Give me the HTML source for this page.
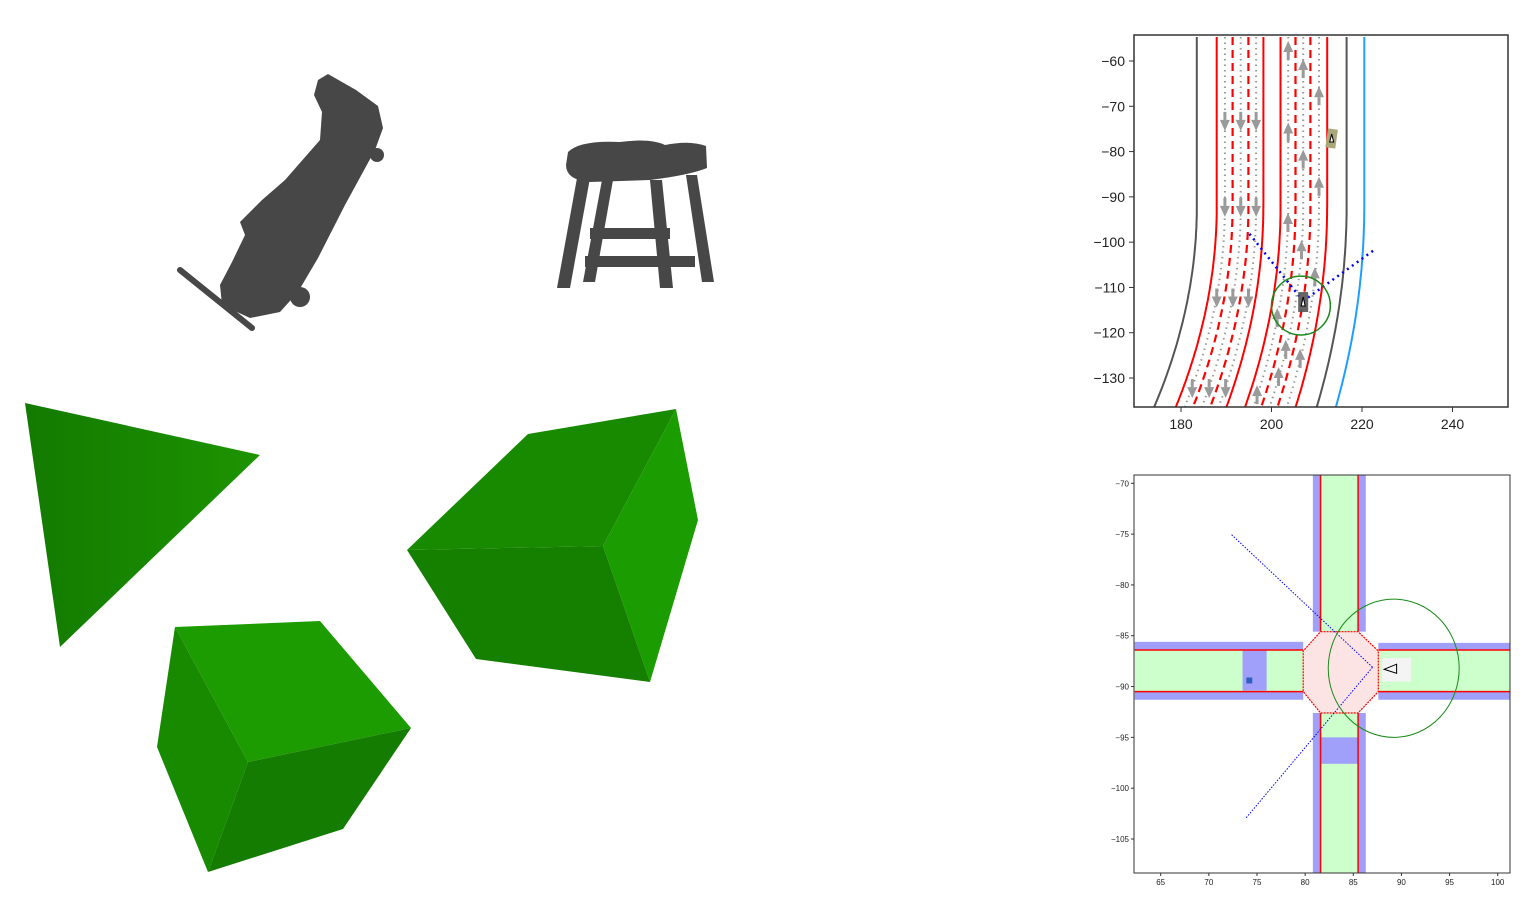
<!DOCTYPE html>
<html><head><meta charset="utf-8"><style>
html,body{margin:0;padding:0;background:#fff;width:1531px;height:914px;overflow:hidden}
svg{display:block;position:absolute;left:0;top:0;font-family:"Liberation Sans",sans-serif}
</style></head><body>
<svg id="s" width="1531" height="914" viewBox="0 0 1531 914">
<defs>
<linearGradient id="tg" x1="0" y1="0" x2="1" y2="0"><stop offset="0" stop-color="#137a00"/><stop offset="1" stop-color="#1d9400"/></linearGradient>
<clipPath id="c1"><rect x="1134" y="35" width="374" height="372"/></clipPath>
<clipPath id="c2"><rect x="1134" y="475" width="376" height="398"/></clipPath>
</defs>
<g>
<polygon fill="#474747" points="318,80 328,74 356,90 378,106 383,128 375,150 345,205 318,258 298,292 280,312 250,318 222,305 220,285 232,262 245,235 240,222 262,200 285,180 320,140 322,112 314,95"/>
<line x1="180" y1="270" x2="252" y2="328" stroke="#474747" stroke-width="6" stroke-linecap="round"/>
<circle cx="300" cy="297" r="10" fill="#474747"/>
<circle cx="377" cy="155" r="7" fill="#474747"/>
<g fill="#474747">
<path d="M568,152 Q580,140 620,142 Q650,138 665,145 Q690,140 706,146 L707,168 Q690,175 650,180 L590,182 Q566,180 566,165 Z"/>
<polygon points="577,178 590,178 570,288 557,288"/>
<polygon points="602,180 613,180 595,282 583,282"/>
<polygon points="650,180 662,180 673,288 660,288"/>
<polygon points="686,175 697,175 714,282 702,282"/>
<rect x="590" y="228" width="80" height="11"/>
<rect x="585" y="256" width="110" height="11"/>
</g>
<polygon fill="url(#tg)" points="25,403 260,455 60,647"/>
<polygon fill="#188a00" points="407,550 528,434 676,409 603,546"/>
<polygon fill="#1b9c00" points="603,546 676,409 698,520 650,682"/>
<polygon fill="#158000" points="407,550 603,546 650,682 476,659"/>
<polygon fill="#1c9c00" points="175,627 320,621 411,728 248,762"/>
<polygon fill="#178a00" points="175,627 248,762 208,872 157,747"/>
<polygon fill="#147c00" points="248,762 411,728 343,829 208,872"/>
</g>
<g id="top"></g>
<g id="bot"></g>
</svg>
<script>
const NS='http://www.w3.org/2000/svg';
function mk(p,t,a){const e=document.createElementNS(NS,t);for(const k in a)e.setAttribute(k,a[k]);p.appendChild(e);return e;}
// ---------- top chart data ----------
const topXTicks=[180,200,220,240];
const topYTicks=[-60,-70,-80,-90,-100,-110,-120,-130];
const solidRed=[187.9,198.2,202.0,212.3];
const dashedRed=[191.4,194.9,205.3,208.6];
const dottedGray=[189.7,193.2,196.6,203.7,207.0,210.5];
const grayBorders=[183.5,216.6];
const blueBorder=[220.5];
const downArrowX=[189.7,193.2,196.6];
const downArrowY=[-73,-92,-112,-132];
const upArrowX=[203.7,203.7,203.7,203.7,203.7,207.0,207.0,207.0,207.0,207.0,210.5,210.5,210.5,210.5];
const upArrowY=[-58,-76,-96,-117,-134,-62,-82,-102,-124,-130,-68,-88,-108,-126];
const egoPos=[207,-113];
const otherPos=[213.3,-77];
const sensorEnds=[[195,-98],[223,-101.5]];
const circleR=[6.5];
const tx=v=>1181+(v-180)*4.525, ty=v=>61+(-60-v)*4.529;
function laneX(x0,y){const s=y< -92?-0.0048*Math.pow(-92-y,2):0;return x0+s*(1-(x0-183)*0.009);}
const T=document.getElementById('top');
const tp=mk(T,'g',{'clip-path':'url(#c1)'});
function lane(x0,style,name){let d='';for(let y=-54.7;y>=-136.7;y-=1){d+=(d?'L':'M')+tx(laneX(x0,y)).toFixed(1)+','+ty(y).toFixed(1);}
 const e=mk(tp,'path',Object.assign({d:d,fill:'none'},style));}
grayBorders.forEach(x=>lane(x,{stroke:'#555','stroke-width':2},'road-border'));
blueBorder.forEach(x=>lane(x,{stroke:'#1e9fff','stroke-width':2},'blue-boundary'));
dottedGray.forEach(x=>lane(x,{stroke:'#999','stroke-width':2,'stroke-dasharray':'1.5,4'},'lane-centerline'));
solidRed.forEach(x=>lane(x,{stroke:'#f00','stroke-width':2},'lane-solid-line'));
dashedRed.forEach(x=>lane(x,{stroke:'#f00','stroke-width':2.2,'stroke-dasharray':'8,5'},'lane-dashed-line'));
function arrow(xv,yv,up){const X=tx(laneX(xv,yv)),Y=ty(yv);const dir=up?-1:1;
 const g=mk(tp,'g',{fill:'#9a9a9a',stroke:'none'});
 
 
 mk(g,'rect',{x:X-1.5,y:up?Y:Y-8,width:3,height:8});
 mk(g,'polygon',{points:`${X-5},${Y} ${X+5},${Y} ${X},${Y+dir*11}`});}
downArrowX.forEach(x=>downArrowY.forEach(y=>arrow(x,y,false)));
upArrowX.forEach((x,i)=>arrow(x,upArrowY[i],true));
sensorEnds.forEach(p=>{const l=mk(tp,'line',{x1:tx(egoPos[0]),y1:ty(egoPos[1]),x2:tx(p[0]),y2:ty(p[1]),stroke:'#00f','stroke-width':2.5,'stroke-dasharray':'2,4'});
 });
const gc=mk(tp,'circle',{cx:tx(egoPos[0]-0.5),cy:ty(egoPos[1]-1),r:circleR[0]*4.525,fill:'none',stroke:'#1a8a1a','stroke-width':1.5});

const ego=mk(tp,'rect',{x:tx(egoPos[0])-5,y:ty(egoPos[1])-9,width:10,height:20,fill:'#555',opacity:0.9});

mk(tp,'polygon',{points:`${tx(egoPos[0])-2},${ty(egoPos[1])+5} ${tx(egoPos[0])+2},${ty(egoPos[1])+5} ${tx(egoPos[0])},${ty(egoPos[1])-4}`,fill:'#fff',stroke:'#000','stroke-width':1});
const oth=mk(tp,'rect',{x:tx(otherPos[0])-5,y:ty(otherPos[1])-9,width:10,height:19,fill:'#a8a87a',transform:`rotate(8 ${tx(otherPos[0])} ${ty(otherPos[1])})`});

mk(tp,'polygon',{points:`${tx(otherPos[0])-2},${ty(otherPos[1])+4} ${tx(otherPos[0])+2},${ty(otherPos[1])+4} ${tx(otherPos[0])},${ty(otherPos[1])-4}`,fill:'#fff',stroke:'#000','stroke-width':1});
const tf=mk(T,'rect',{x:1134,y:35,width:374,height:372,fill:'none',stroke:'#333','stroke-width':1.5});

topXTicks.forEach(v=>{mk(T,'line',{x1:tx(v),x2:tx(v),y1:407,y2:412,stroke:'#333'});
 const t=mk(T,'text',{x:tx(v),y:429,'text-anchor':'middle','font-size':14,fill:'#222'});t.textContent=v;
 });
topYTicks.forEach(v=>{mk(T,'line',{x1:1129,x2:1134,y1:ty(v),y2:ty(v),stroke:'#333'});
 const t=mk(T,'text',{x:1125,y:ty(v)+5,'text-anchor':'end','font-size':14,fill:'#222'});t.textContent='\u2212'+Math.abs(v);
 });
// ---------- bottom chart data ----------
const botXTicks=[65,70,75,80,85,90,95,100];
const botYTicks=[-70,-75,-80,-85,-90,-95,-100,-105];
const vRoad=[81.6,85.5];
const hRoad=[-86.4,-90.5];
const octagon=[[81.6,-84.6],[85.5,-84.6],[87.6,-86.5],[87.6,-90.5],[85.5,-92.6],[81.6,-92.6],[79.8,-90.5],[79.8,-86.5]];
const crosswalks=[[73.5,-86.4,76,-90.4],[81.6,-95,85.5,-97.6]];
const botEgo=[87,-88.1];
const botRayEnds=[[72.3,-75],[73.8,-103]];
const botCircle=[89.2,-88.2,6.8];
const bx=v=>1160.7+(v-65)*9.629, by=v=>483.3+(-70-v)*10.163;
const XL=62.3,XR=101.3,YT=-69.2,YB=-108.3;
const B=document.getElementById('bot');
const bp=mk(B,'g',{'clip-path':'url(#c2)'});
function R(x1,y1,x2,y2,fill,name){const e=mk(bp,'rect',{x:Math.min(bx(x1),bx(x2)),y:Math.min(by(y1),by(y2)),width:Math.abs(bx(x2)-bx(x1)),height:Math.abs(by(y2)-by(y1)),fill:fill});
 }
const BL='#a0a0fa',GR='#ccffcc';
R(vRoad[0]-0.8,YT,vRoad[0],-84.6,BL,'sidewalk');R(vRoad[1],YT,vRoad[1]+0.8,-84.6,BL,'sidewalk');
R(vRoad[0]-0.8,-92.6,vRoad[0],YB,BL,'sidewalk');R(vRoad[1],-92.6,vRoad[1]+0.8,YB,BL,'sidewalk');
R(XL,hRoad[0]+0.8,79.8,hRoad[0],BL,'sidewalk');R(XL,hRoad[1],79.8,hRoad[1]-0.8,BL,'sidewalk');
R(87.6,hRoad[0]+0.7,XR,hRoad[0],BL,'sidewalk');R(87.6,hRoad[1],XR,hRoad[1]-0.8,BL,'sidewalk');
R(vRoad[0],YT,vRoad[1],-84.6,GR,'road-north');R(vRoad[0],-92.6,vRoad[1],YB,GR,'road-south');
R(XL,hRoad[0],79.8,hRoad[1],GR,'road-west');R(87.6,hRoad[0],XR,hRoad[1],GR,'road-east');
crosswalks.forEach(c=>R(c[0],c[1],c[2],c[3],BL,'crosswalk'));
const oc=mk(bp,'polygon',{points:octagon.map(p=>bx(p[0])+','+by(p[1])).join(' '),fill:'#fde4e4',stroke:'#f00','stroke-width':1.2,'stroke-dasharray':'2,1'});

[[vRoad[0],YT,vRoad[0],-84.6],[vRoad[1],YT,vRoad[1],-84.6],[vRoad[0],-92.6,vRoad[0],YB],[vRoad[1],-92.6,vRoad[1],YB],
 [XL,hRoad[0],79.8,hRoad[0]],[XL,hRoad[1],79.8,hRoad[1]],[87.6,hRoad[0],XR,hRoad[0]],[87.6,hRoad[1],XR,hRoad[1]]].forEach(l=>{
 const e=mk(bp,'line',{x1:bx(l[0]),y1:by(l[1]),x2:bx(l[2]),y2:by(l[3]),stroke:'#f00','stroke-width':1.5});
 });
const cb=mk(bp,'rect',{x:bx(88),y:by(-87.2),width:bx(91)-bx(88),height:by(-89.5)-by(-87.2),fill:'#f4f4f4'});

const tri=mk(bp,'polygon',{points:`${bx(88.2)},${by(-88.3)} ${bx(89.5)},${by(-87.8)} ${bx(89.5)},${by(-88.7)}`,fill:'none',stroke:'#000','stroke-width':1});

botRayEnds.forEach(p=>{const l=mk(bp,'line',{x1:bx(botEgo[0]),y1:by(botEgo[1]),x2:bx(p[0]),y2:by(p[1]),stroke:'#00f','stroke-width':1,'stroke-dasharray':'1.5,1.5'});
 });
const bc=mk(bp,'ellipse',{cx:bx(botCircle[0]),cy:by(botCircle[1]),rx:botCircle[2]*9.629,ry:botCircle[2]*10.163,fill:'none',stroke:'#1a8a1a','stroke-width':1});

const ped=mk(bp,'rect',{x:bx(74.2)-3,y:by(-89.4)-3,width:6,height:6,fill:'#3060c0'});

const bf=mk(B,'rect',{x:1134,y:475,width:376,height:398,fill:'none',stroke:'#333','stroke-width':1});

botXTicks.forEach(v=>{mk(B,'line',{x1:bx(v),x2:bx(v),y1:873,y2:876,stroke:'#333'});
 const t=mk(B,'text',{x:bx(v),y:885,'text-anchor':'middle','font-size':8,fill:'#222'});t.textContent=v;
 });
botYTicks.forEach(v=>{mk(B,'line',{x1:1131,x2:1134,y1:by(v),y2:by(v),stroke:'#333'});
 const t=mk(B,'text',{x:1129,y:by(v)+3,'text-anchor':'end','font-size':8,fill:'#222'});t.textContent='\u2212'+Math.abs(v);
 });
</script>
</body></html>
